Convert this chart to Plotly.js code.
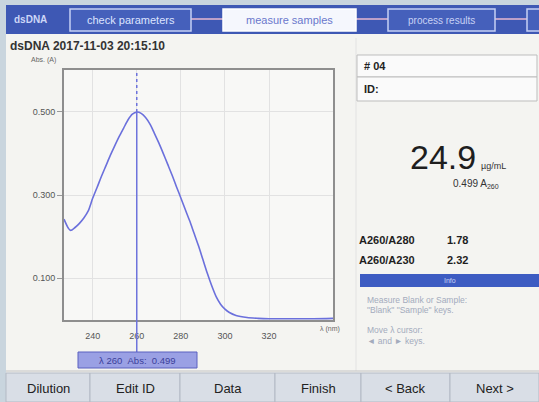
<!DOCTYPE html>
<html><head><meta charset="utf-8">
<script src="https://cdn.plot.ly/plotly-3.0.1.min.js"></script>
<style>html,body{margin:0;padding:0;background:#f4f4f1;overflow:hidden}#chart{width:539px;height:402px}</style>
</head><body><div id="chart"></div>
<script>
// ---- data ----
const wavelengthNm = [227,229,230,232,234,236,238,240,242,244,246,248,250,252,254,256,258,260,262,264,266,268,270,272,274,276,278,280,282,284,286,288,290,292,294,296,298,300,302,305,310,315,320,330,340,349];
const absorbance   = [0.242,0.220,0.215,0.222,0.232,0.245,0.262,0.292,0.318,0.345,0.370,0.395,0.418,0.440,0.460,0.480,0.494,0.499,0.496,0.486,0.470,0.448,0.425,0.400,0.374,0.348,0.320,0.293,0.265,0.238,0.208,0.178,0.145,0.112,0.082,0.056,0.038,0.026,0.018,0.011,0.006,0.004,0.003,0.003,0.003,0.004];
const xTickVals = [240,260,280,300,320];
const yTickVals = [0.1,0.3,0.5];
const yTickText = ['0.100','0.300','0.500'];
const cursorNm = 260;
const sampleTitle = 'dsDNA 2017-11-03 20:15:10';
const sampleNo = '# 04';
const concentration = '24.9';
const concUnit = 'µg/mL';
const ratioLabels = ['A260/A280','A260/A230'];
const ratioValues = ['1.78','2.32'];
const stepLabels = ['check parameters','measure samples','process results'];
const buttonLabels = ['Dilution','Edit ID','Data','Finish','< Back','Next >'];
const infoLines = ['Measure Blank or Sample:','"Blank" "Sample" keys.','Move λ cursor:','◄ and ► keys.'];

// ---- geometry helpers (pixel -> paper) ----
const L=64,R=333,T=70,B=320;
const X=px=>(px-L)/(R-L), Y=py=>(B-py)/(B-T);
const FONT='Liberation Sans, Arial, sans-serif';
const shapes=[], ann=[];
function rect(x0,y0,x1,y1,fill,line,lw){shapes.push({type:'rect',xref:'paper',yref:'paper',x0:X(x0),x1:X(x1),y0:Y(y0),y1:Y(y1),fillcolor:fill,line:{color:line||fill,width:line?(lw||1):0},layer:'above'});}
function seg(x0,y0,x1,y1,color,w){shapes.push({type:'line',xref:'paper',yref:'paper',x0:X(x0),x1:X(x1),y0:Y(y0),y1:Y(y1),line:{color:color,width:w||1},layer:'above'});}
function txt(x,y,t,size,color,anchor,bold){ann.push({xref:'paper',yref:'paper',x:X(x),y:Y(y),text:bold?'<b>'+t+'</b>':t,showarrow:false,xanchor:anchor||'left',yanchor:'middle',font:{family:FONT,size:size,color:color}});}

const ci = wavelengthNm.indexOf(cursorNm);
const cursorAbs = absorbance[ci];

// borders
rect(0,0,539,5,'#c9d5de'); rect(0,0,6,402,'#c9d5de');
// header
rect(6,5,539,34,'#3e58b4');
txt(12,19,'dsDNA',10,'#cdd6f7','left',true);
seg(191,19,223,19,'#e9b8d0',1.5); seg(356,19,388,19,'#e9b8d0',1.5); seg(495,19,527,19,'#e9b8d0',1.5);
rect(70,9,191,31,'#4560bb','#c5cff5',1.5); txt(130.5,20,stepLabels[0],11,'#dde4ff','center');
rect(223,9,356,31,'#f5f7fd','#ffffff',1.5); txt(289.5,20,stepLabels[1],11,'#6a78cc','center');
rect(388,9,495,31,'#4560bb','#c5cff5',1.5); txt(441.5,20,stepLabels[2],10,'#c8d2f5','center');
rect(527,9,545,31,'#4560bb','#c5cff5',1.5);
// subtitle
txt(8,46,sampleTitle,12,'#333','left',true);
txt(29,60,'Abs. (A)',7,'#666','left');
txt(318,329,'λ (nm)',7,'#666','left');
// divider
seg(356,38,356,371,'#e2e2e2',1);
// right panel
rect(357,55,537,77,'#fafafa','#bdbdbd',1); rect(357,77,537,101,'#fafafa','#bdbdbd',1);
txt(362,66,sampleNo,11,'#222','left',true); txt(362,89,'ID:',11,'#222','left',true);
txt(478,157,concentration,34,'#1e1e1e','right');
txt(479,166,concUnit,9,'#333','left');
txt(476,184,cursorAbs.toFixed(3)+' A<sub>260</sub>',10,'#333','center');
txt(357,240,ratioLabels[0],11,'#1e1e1e','left',true); txt(445,240,ratioValues[0],11,'#1e1e1e','left',true);
txt(357,260,ratioLabels[1],11,'#1e1e1e','left',true); txt(445,260,ratioValues[1],11,'#1e1e1e','left',true);
rect(360,274,539,287,'#3d5cc2'); txt(450,280.5,'Info',7,'#c9d3f5','center');
txt(365,300,infoLines[0],8.5,'#a3abbd','left'); txt(365,310,infoLines[1],8.5,'#a3abbd','left');
txt(365,330,infoLines[2],8.5,'#a3abbd','left'); txt(365,341,infoLines[3],8.5,'#a3abbd','left');
// cursor
shapes.push({type:'line',xref:'x',yref:'paper',x0:cursorNm,x1:cursorNm,y0:Y(352),y1:0,line:{color:'#6d73dc',width:1.5},layer:'above'});
shapes.push({type:'line',xref:'x',yref:'y',x0:cursorNm,x1:cursorNm,y0:0,y1:cursorAbs,line:{color:'#6d73dc',width:1.5},layer:'above'});
shapes.push({type:'line',xref:'x',yref:'y',x0:cursorNm,x1:cursorNm,y0:cursorAbs,y1:0.6,line:{color:'#6d73dc',width:1.5,dash:'dot'},layer:'above'});
rect(78,352,197,368,'#9aa0e4','#5a60c0',1);
txt(137.5,360,'λ '+cursorNm+'  Abs:  '+cursorAbs.toFixed(3),9.5,'#3a3f9a','center');
// bottom buttons
seg(6,371,539,371,'#c2c2c2',1);
const bx=[6,90,180,275,361,450,539];
buttonLabels.forEach((b,i)=>{rect(bx[i],373,bx[i+1],402,'#d9dee6','#b3b9c4',1);txt((bx[i]+bx[i+1])/2,388,b,13,'#222','center');});

const trace={x:wavelengthNm,y:absorbance,type:'scatter',mode:'lines',line:{color:'#6b70dc',width:1.6,shape:'spline',smoothing:0.8},hoverinfo:'skip'};
const layout={
  width:539,height:402,margin:{l:L,r:539-R,t:T,b:402-B,pad:0},
  paper_bgcolor:'#f4f4f1',plot_bgcolor:'#f8f8f6',showlegend:false,
  xaxis:{range:[227,349],tickvals:xTickVals,showgrid:true,gridcolor:'#e2e2e2',gridwidth:1,showline:true,linecolor:'#8e8e8e',linewidth:2,mirror:true,zeroline:false,ticks:'outside',ticklen:6,tickcolor:'rgba(0,0,0,0)',tickfont:{family:FONT,size:9,color:'#555'}},
  yaxis:{range:[0,0.6],tickvals:yTickVals,ticktext:yTickText,showgrid:true,gridcolor:'#e2e2e2',gridwidth:1,showline:true,linecolor:'#8e8e8e',linewidth:2,mirror:true,zeroline:false,ticks:'outside',ticklen:5,tickcolor:'#999',tickfont:{family:FONT,size:9,color:'#555'}},
  shapes:shapes,annotations:ann
};
Plotly.newPlot('chart',[trace],layout,{staticPlot:true,displayModeBar:false});
</script></body></html>
